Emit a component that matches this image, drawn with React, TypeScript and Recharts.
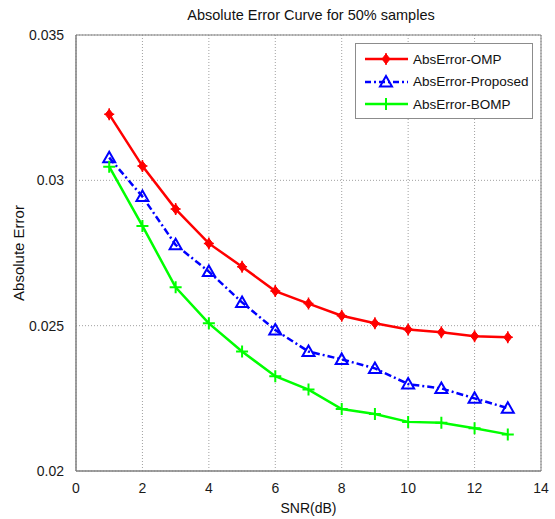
import React from "react";
import {
  LineChart,
  Line,
  XAxis,
  YAxis,
  CartesianGrid,
  ReferenceArea,
} from "recharts";

const snr = [1, 2, 3, 4, 5, 6, 7, 8, 9, 10, 11, 12, 13];
const ompErr = [0.03227, 0.03049, 0.02901, 0.02783, 0.02703, 0.02619, 0.02576, 0.02534, 0.02508, 0.02487, 0.02477, 0.02464, 0.0246];
const proposedErr = [0.03078, 0.02944, 0.02778, 0.02686, 0.0258, 0.02485, 0.02411, 0.02384, 0.02353, 0.02299, 0.02284, 0.0225, 0.02216];
const bompErr = [0.03047, 0.02843, 0.02632, 0.02508, 0.02411, 0.02326, 0.0228, 0.02213, 0.02196, 0.02169, 0.02166, 0.02147, 0.02126];

const xTicks = [0, 2, 4, 6, 8, 10, 12, 14];
const yTicks = [0.02, 0.025, 0.03, 0.035];

const data = snr.map((s, i) => ({
  snr: s,
  omp: ompErr[i],
  proposed: proposedErr[i],
  bomp: bompErr[i],
}));

const FONT = "'Liberation Sans', Arial, sans-serif";
const tickStyle = { fontSize: 14, fill: "#1a1a1a", fontFamily: FONT };

// marker shapes, MATLAB-ish
function Diamond({ cx, cy }: { cx: number; cy: number }) {
  return (
    <g>
      <path d={`M${cx},${cy - 5} L${cx + 4},${cy} L${cx},${cy + 5} L${cx - 4},${cy} Z`} fill="#ff0000" stroke="#ff0000" strokeWidth={1} />
      <path d={`M${cx - 5},${cy} H${cx + 5} M${cx},${cy - 6} V${cy + 6}`} stroke="#ff0000" strokeWidth={1.5} />
    </g>
  );
}

function Triangle({ cx, cy }: { cx: number; cy: number }) {
  return (
    <path
      d={`M${cx},${cy - 6} L${cx + 6},${cy + 4.5} L${cx - 6},${cy + 4.5} Z`}
      fill="none"
      stroke="#0000ff"
      strokeWidth={2}
    />
  );
}

function Plus({ cx, cy }: { cx: number; cy: number }) {
  return <path d={`M${cx - 6},${cy} H${cx + 6} M${cx},${cy - 6} V${cy + 6}`} stroke="#00ff00" strokeWidth={2} />;
}

const legendItems = [
  { name: "AbsError-OMP", color: "#ff0000", dash: undefined, Marker: Diamond },
  { name: "AbsError-Proposed", color: "#0000ff", dash: "6 3 2 3", Marker: Triangle },
  { name: "AbsError-BOMP", color: "#00ff00", dash: undefined, Marker: Plus },
];

function LegendBox() {
  return (
    <div
      style={{
        position: "absolute",
        left: 355,
        top: 43,
        width: 178,
        height: 76,
        border: "1px solid #8c8c8c",
        background: "white",
        boxSizing: "border-box",
        padding: "4px 0 0 8px",
        fontFamily: FONT,
        fontSize: 13.5,
        color: "#111",
      }}
    >
      {legendItems.map(({ name, color, dash, Marker }) => (
        <div key={name} style={{ display: "flex", alignItems: "center", height: 22.5 }}>
          <svg width={46} height={16} style={{ marginRight: 3 }}>
            <line x1={1} y1={8} x2={44} y2={8} stroke={color} strokeWidth={2.5} strokeDasharray={dash} />
            <Marker cx={22} cy={8} />
          </svg>
          <span>{name}</span>
        </div>
      ))}
    </div>
  );
}

export default function App() {
  return (
    <div style={{ position: "absolute", left: 0, top: 0, width: 555, height: 519, background: "white" }}>
      <LineChart width={555} height={519} data={data} margin={{ top: 35, right: 14, bottom: 0, left: 0 }}>
        <text x={311} y={20} textAnchor="middle" style={{ fontSize: 14.5, fontFamily: FONT, fill: "#111" }}>
          Absolute Error Curve for 50% samples
        </text>
        <CartesianGrid stroke="#a0a0a0" strokeDasharray="1 2" />
        <XAxis
          dataKey="snr"
          type="number"
          domain={[0, 14]}
          ticks={xTicks}
          tick={tickStyle}
          tickLine={false}
          tickMargin={6}
          axisLine={{ stroke: "#808080" }}
          height={48}
          label={{ value: "SNR(dB)", position: "insideBottom", offset: 6, style: { fontSize: 14, fontFamily: FONT, fill: "#111" } }}
        />
        <YAxis
          type="number"
          domain={[0.02, 0.035]}
          ticks={yTicks}
          tick={tickStyle}
          tickLine={false}
          tickMargin={6}
          axisLine={{ stroke: "#808080" }}
          width={76}
          tickFormatter={(v: number) => String(v)}
          label={{
            content: () => (
              <text x={20} y={253} transform="rotate(-90 20 253)" textAnchor="middle" dominantBaseline="middle" style={{ fontSize: 15, fontFamily: FONT, fill: "#111" }}>
                Absolute Error
              </text>
            ),
          }}
        />
        <ReferenceArea x1={0} x2={14} y1={0.02} y2={0.035} fill="none" stroke="#808080" strokeWidth={1} ifOverflow="visible" />
        <Line
          dataKey="omp"
          stroke="#ff0000"
          strokeWidth={2.5}
          dot={(p: any) => <Diamond key={`o${p.index}`} cx={p.cx} cy={p.cy} />}
          isAnimationActive={false}
        />
        <Line
          dataKey="proposed"
          stroke="#0000ff"
          strokeWidth={2.5}
          strokeDasharray="7 3 2 3"
          dot={(p: any) => <Triangle key={`p${p.index}`} cx={p.cx} cy={p.cy} />}
          isAnimationActive={false}
        />
        <Line
          dataKey="bomp"
          stroke="#00ff00"
          strokeWidth={2.5}
          dot={(p: any) => <Plus key={`b${p.index}`} cx={p.cx} cy={p.cy} />}
          isAnimationActive={false}
        />
      </LineChart>
      <LegendBox />
    </div>
  );
}
